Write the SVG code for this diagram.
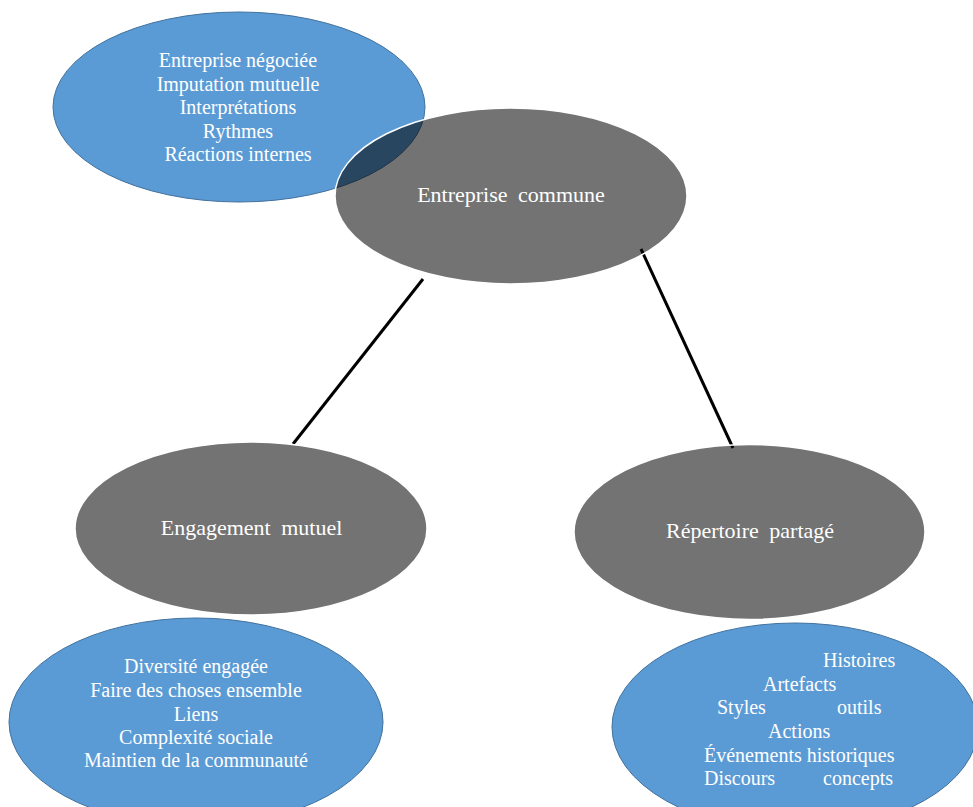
<svg xmlns="http://www.w3.org/2000/svg" width="973" height="807" viewBox="0 0 973 807">
<style>
.blue{fill:#5B9BD5;stroke:#41719C;stroke-width:1}
.gray{fill:#000;fill-opacity:0.55;stroke:#fff;stroke-width:1.5}
.t{font-family:"Liberation Serif","Times New Roman",serif;fill:#fff}
.s{font-size:20px}
.m{font-size:22px;word-spacing:5px}
.c{text-anchor:middle}
.conn{stroke:#000;stroke-width:3;fill:none}
</style>
<rect width="973" height="807" fill="#fff"/>
<g id="connectors">
<line class="conn" x1="423" y1="279" x2="293" y2="444"/>
<line class="conn" x1="641" y1="249" x2="733" y2="448"/>
</g>
<g id="details-entreprise">
<ellipse class="blue" cx="239" cy="107" rx="186" ry="95"/>
<text class="t s c" x="238"><tspan x="238" y="67">Entreprise négociée</tspan><tspan x="238" y="90.5">Imputation mutuelle</tspan><tspan x="238" y="114">Interprétations</tspan><tspan x="238" y="137.5">Rythmes</tspan><tspan x="238" y="161">Réactions internes</tspan></text>
</g>
<g id="entreprise-commune">
<ellipse class="gray" cx="511" cy="196" rx="176" ry="88"/>
<text class="t m c" x="511" y="202">Entreprise commune</text>
</g>
<g id="engagement-mutuel">
<ellipse class="gray" cx="251" cy="528.5" rx="176" ry="86.5"/>
<text class="t m c" x="251.5" y="535">Engagement mutuel</text>
</g>
<g id="repertoire-partage">
<ellipse class="gray" cx="749.5" cy="532" rx="175.5" ry="87.5"/>
<text class="t m c" x="750" y="538">Répertoire partagé</text>
</g>
<g id="details-engagement">
<ellipse class="blue" cx="196" cy="722" rx="187" ry="104"/>
<text class="t s c"><tspan x="196" y="673">Diversité engagée</tspan><tspan x="196" y="697">Faire des choses ensemble</tspan><tspan x="196" y="721">Liens</tspan><tspan x="196" y="744">Complexité sociale</tspan><tspan x="196" y="767">Maintien de la communauté</tspan></text>
</g>
<g id="details-repertoire">
<ellipse class="blue" cx="795" cy="727" rx="183" ry="104"/>
<text class="t s"><tspan x="823" y="667">Histoires</tspan><tspan x="763" y="691">Artefacts</tspan><tspan x="717" y="714">Styles</tspan><tspan x="837" y="714">outils</tspan><tspan x="768" y="738">Actions</tspan><tspan x="704" y="762">Événements historiques</tspan><tspan x="704" y="785">Discours</tspan><tspan x="823" y="785">concepts</tspan></text>
</g>
</svg>
